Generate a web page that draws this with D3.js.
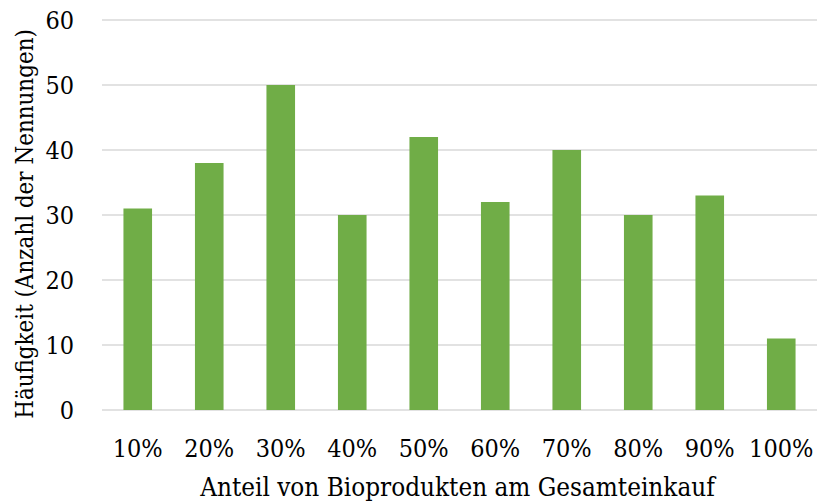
<!DOCTYPE html>
<html>
<head>
<meta charset="utf-8">
<script src="https://cdn.jsdelivr.net/npm/d3@7"></script>
<style>
  html, body { margin: 0; padding: 0; background: #fff; }
  svg text { font-family: "DejaVu Serif Condensed", "DejaVu Serif", serif; font-stretch: condensed; fill: #000; }
</style>
</head>
<body>
<svg id="chart" width="817" height="501"></svg>
<script>
// Share of organic products in total purchases vs. number of mentions
const categories = ["10%", "20%", "30%", "40%", "50%", "60%", "70%", "80%", "90%", "100%"];
const counts = [31, 38, 50, 30, 42, 32, 40, 30, 33, 11];
const yTicks = [0, 10, 20, 30, 40, 50, 60];

const svg = d3.select("#chart");
const margin = { left: 102, right: 0, top: 20, bottom: 91 };
const width = 817, height = 501;
const fontSize = "25px";

const x = d3.scaleBand()
  .domain(categories)
  .range([margin.left, width - margin.right])
  .paddingInner(0.6)
  .paddingOuter(0.3);

const y = d3.scaleLinear()
  .domain([0, 60])
  .range([height - margin.bottom, margin.top]);

// horizontal gridlines
svg.append("g")
  .selectAll("line")
  .data(yTicks)
  .join("line")
  .attr("x1", margin.left)
  .attr("x2", width - margin.right)
  .attr("y1", d => y(d))
  .attr("y2", d => y(d))
  .attr("stroke", "#d9d9d9")
  .attr("stroke-width", 1.5);

// bars
svg.append("g")
  .selectAll("rect")
  .data(counts)
  .join("rect")
  .attr("x", (d, i) => x(categories[i]))
  .attr("width", x.bandwidth())
  .attr("y", d => y(d))
  .attr("height", d => y(0) - y(d))
  .attr("fill", "#70ad47");

// y axis labels
const yAxis = svg.append("g")
  .attr("transform", `translate(${margin.left - 28},0)`)
  .call(d3.axisLeft(y).tickValues(yTicks).tickSize(0).tickPadding(0));
yAxis.select(".domain").remove();
yAxis.selectAll("text")
  .style("font-family", null)
  .attr("font-family", null)
  .style("font-size", fontSize)
  .attr("fill", "#000");

// x axis labels
const xAxis = svg.append("g")
  .attr("transform", `translate(0,${y(0)})`)
  .call(d3.axisBottom(x).tickSize(0).tickPadding(29));
xAxis.select(".domain").remove();
xAxis.selectAll("text")
  .style("font-size", fontSize)
  .attr("fill", "#000");
// axis groups carry a sans-serif font attribute; let the stylesheet win
svg.selectAll("g").attr("font-family", null);

// axis titles, sized to fill their span
function fitTitle(sel, span) {
  const base = 24;
  sel.style("font-size", base + "px");
  const len = sel.node().getComputedTextLength();
  sel.style("font-size", (base * span / len) + "px");
}

const xTitle = svg.append("text")
  .attr("x", 457.5)
  .attr("y", 496)
  .attr("text-anchor", "middle")
  .text("Anteil von Bioprodukten am Gesamteinkauf");
fitTitle(xTitle, 515);

const yTitle = svg.append("text")
  .attr("transform", "translate(33,224) rotate(-90)")
  .attr("text-anchor", "middle")
  .text("Häufigkeit (Anzahl der Nennungen)");
fitTitle(yTitle, 390);
</script>
</body>
</html>
